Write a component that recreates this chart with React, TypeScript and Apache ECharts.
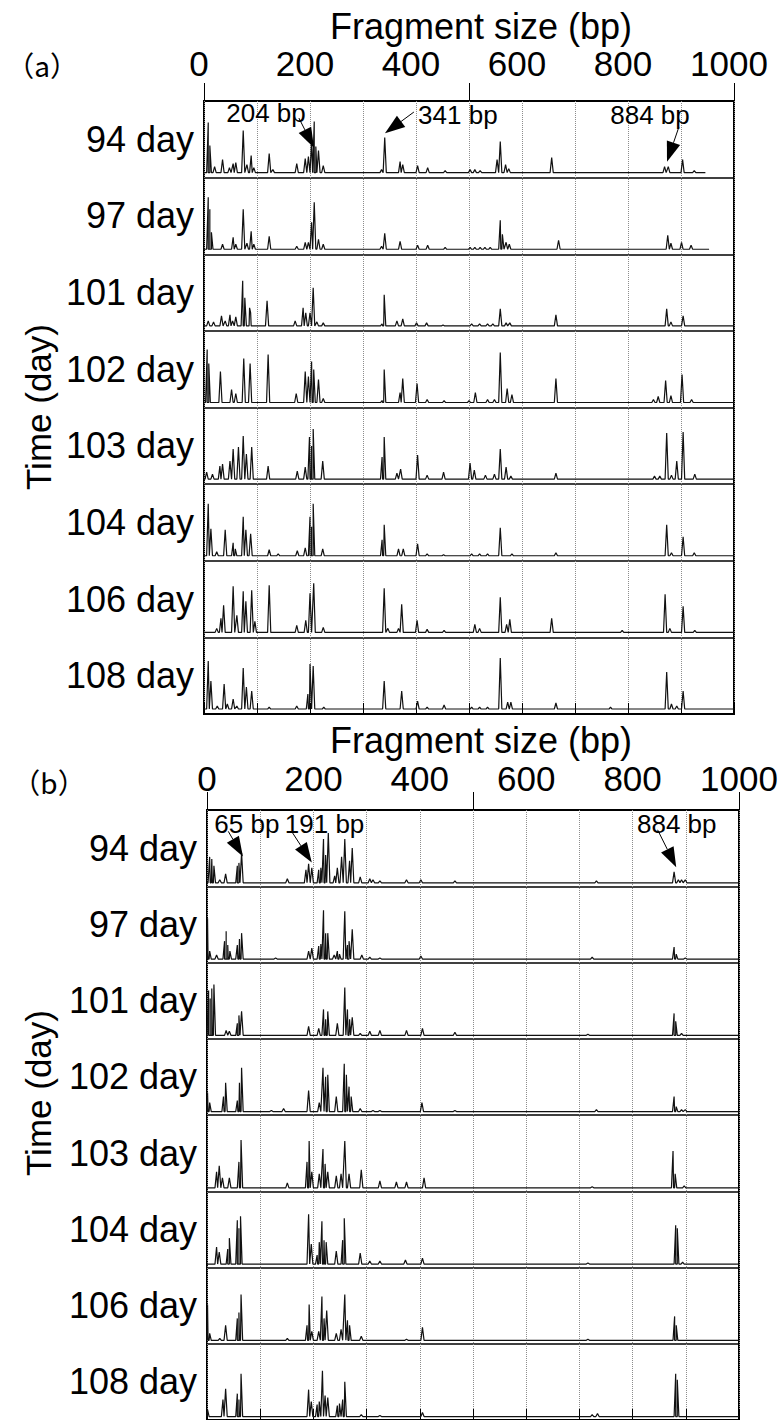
import { useEffect, useRef } from 'react';
import * as echarts from 'echarts';

const FONT = '"Liberation Sans", Arial, Helvetica, sans-serif';
const CJK = '"Noto Sans CJK JP", "Noto Sans", sans-serif';

const DAYS = ['94 day', '97 day', '101 day', '102 day', '103 day', '104 day', '106 day', '108 day'];
const X_LABELS = [0, 200, 400, 600, 800, 1000];
const X_TITLE = 'Fragment size (bp)';
const Y_TITLE = 'Time (day)';
const PANEL_TAGS = ['（a）', '（b）'];

// peaks: [fragment size (bp), intensity]
const A94 = [[8,50],[11,27],[20,6],[35,13],[48,5],[55,9],[60,10],[74,42],[81,8],[89,17],[94,5],[123,19],[130,3],[175,9],[191,14],[197,16],[203,31],[208,51],[211,26],[216,22],[225,7],[335,3],[341,35],[370,11],[375,8],[403,7],[422,5],[455,2],[502,3],[511,3],[521,2],[553,13],[559,31],[569,8],[575,4],[656,15],[869,6],[876,6],[903,13],[925,2]];
const A97 = [[8,52],[11,40],[14,17],[35,5],[55,12],[60,5],[74,40],[81,6],[89,18],[94,5],[123,13],[175,3],[191,7],[197,7],[203,27],[208,47],[216,10],[225,5],[335,3],[341,16],[370,8],[403,4],[422,4],[455,2],[502,2],[511,2],[521,2],[530,2],[540,2],[559,29],[563,15],[570,7],[576,5],[669,9],[875,14],[881,6],[901,7],[919,4]];
const A101 = [[8,5],[18,4],[33,10],[40,5],[49,11],[54,5],[60,9],[73,45],[77,28],[86,18],[88,13],[119,25],[172,5],[187,18],[192,13],[200,13],[206,38],[213,4],[225,3],[336,2],[340,31],[364,5],[375,7],[401,3],[420,3],[451,1],[505,2],[520,2],[535,2],[545,2],[559,17],[570,3],[577,3],[664,11],[873,17],[881,4],[904,10]];
const A102 = [[6,53],[9,39],[31,31],[52,13],[60,9],[75,44],[87,39],[121,48],[174,9],[191,31],[197,26],[203,41],[207,33],[216,23],[225,4],[336,2],[340,33],[370,10],[375,24],[402,19],[421,3],[453,2],[500,2],[512,10],[535,3],[548,3],[559,50],[572,14],[581,8],[664,24],[848,3],[857,6],[871,22],[881,7],[902,28],[920,3]];
const A103 = [[5,7],[16,5],[30,13],[35,15],[49,18],[55,30],[65,32],[74,43],[80,25],[90,32],[121,13],[176,8],[191,12],[199,42],[203,33],[206,50],[224,18],[336,22],[340,42],[364,6],[371,10],[403,24],[421,4],[452,7],[502,16],[510,9],[531,4],[548,5],[559,30],[570,12],[579,3],[664,6],[850,3],[860,3],[873,46],[882,4],[892,18],[904,47],[926,5]];
const A104 = [[8,52],[13,27],[24,4],[40,26],[55,13],[59,7],[74,39],[79,26],[88,22],[123,6],[140,2],[176,5],[191,8],[200,39],[203,29],[206,52],[224,7],[336,16],[340,31],[367,7],[376,7],[403,12],[421,2],[452,1],[505,2],[520,2],[535,2],[559,28],[581,2],[664,3],[873,31],[882,3],[904,19],[925,3]];
const A106 = [[24,4],[32,14],[37,27],[55,46],[62,17],[74,41],[79,31],[90,42],[96,11],[123,47],[175,7],[192,12],[200,39],[207,49],[225,5],[340,44],[347,4],[367,4],[373,28],[402,12],[421,3],[453,2],[511,8],[520,4],[559,35],[571,8],[577,13],[656,14],[789,2],[870,38],[879,4],[904,26],[926,2]];
const A108 = [[8,48],[13,28],[25,3],[38,25],[44,5],[55,10],[62,3],[74,41],[80,22],[90,18],[123,2],[175,3],[196,15],[200,45],[206,43],[226,2],[340,28],[373,18],[403,8],[421,2],[453,4],[505,2],[520,2],[535,2],[559,51],[573,7],[579,7],[664,6],[767,2],[873,37],[882,5],[892,3],[904,18]];
const A_ENDS = [946, 953, 1000, 1000, 1000, 1000, 1000, 1000];

const B94 = [[5,26],[9,24],[13,17],[24,3],[35,9],[57,17],[60,20],[65,30],[151,4],[186,13],[191,19],[197,15],[210,13],[214,15],[219,44],[223,28],[228,50],[240,7],[245,15],[253,26],[259,44],[268,22],[273,35],[288,6],[306,4],[312,3],[325,2],[375,3],[402,3],[466,2],[732,2],[878,11],[886,3],[892,3],[899,3]];
const B97 = [[1,41],[5,8],[18,4],[33,18],[36,28],[39,14],[43,8],[57,14],[61,20],[65,26],[129,1],[191,8],[197,11],[210,13],[214,15],[219,49],[223,26],[227,26],[239,4],[245,8],[249,5],[259,48],[264,14],[267,18],[273,30],[291,4],[306,2],[325,1],[402,3],[724,2],[878,12],[882,5],[899,1]];
const B101 = [[3,45],[6,37],[9,47],[13,51],[36,5],[42,4],[57,12],[60,20],[65,24],[191,9],[210,7],[219,26],[223,16],[227,24],[245,12],[259,48],[264,26],[268,16],[273,18],[288,2],[306,4],[325,5],[375,5],[405,7],[466,3],[716,1],[878,22],[881,14],[892,2]];
const B102 = [[1,19],[5,9],[31,15],[35,29],[57,11],[61,29],[65,44],[121,1],[144,3],[191,21],[211,9],[218,44],[223,35],[227,37],[243,15],[258,48],[262,37],[267,25],[271,15],[288,3],[312,1],[325,1],[404,9],[466,1],[732,2],[878,15],[882,5],[892,2],[899,2]];
const B103 = [[18,16],[23,22],[29,10],[42,10],[60,26],[64,48],[151,5],[188,26],[192,47],[197,16],[211,14],[218,39],[222,24],[227,16],[243,12],[252,14],[259,47],[267,14],[290,18],[325,7],[356,6],[375,6],[408,10],[724,1],[876,37],[880,14],[897,2]];
const B104 = [[18,17],[23,12],[39,15],[42,26],[57,44],[60,36],[63,48],[191,50],[196,20],[207,9],[211,22],[216,43],[220,24],[224,22],[243,13],[255,24],[258,46],[288,11],[306,3],[325,3],[373,4],[405,6],[716,1],[881,39],[884,36],[894,2]];
const B106 = [[1,36],[5,7],[24,2],[35,15],[57,22],[60,28],[64,46],[151,2],[188,15],[192,36],[197,9],[210,9],[216,44],[220,22],[225,30],[243,7],[252,11],[259,46],[264,20],[268,15],[290,4],[375,1],[405,13],[716,1],[879,24],[882,15]];
const B108 = [[1,7],[30,17],[35,28],[57,23],[60,17],[64,43],[191,27],[196,15],[207,12],[211,15],[217,46],[222,21],[227,19],[245,11],[249,13],[255,17],[259,35],[290,2],[325,1],[405,4],[724,2],[734,3],[881,43],[884,37]];
const B_ENDS = [1000, 1000, 1000, 1000, 1000, 1000, 1000, 1000];

// annotations: [tip bp, tip y, tail bp, tail y, text bp, text y] (y in row units, top row = 7..8)
const ANNOT_A_LABELS = ['204 bp', '341 bp', '884 bp'];
const ANNOT_A = [
  [207.5, 7.39, 179, 7.778, 117, 7.843],
  [341.5, 7.578, 396, 7.856, 479, 7.817],
  [873.6, 7.208, 896, 7.66, 841.5, 7.817],
];
const ANNOT_B_LABELS = ['65 bp', '191 bp', '884 bp'];
const ANNOT_B = [
  [67.5, 7.39, 40, 7.72, 75, 7.815],
  [197, 7.31, 159, 7.72, 221, 7.815],
  [882, 7.25, 847, 7.74, 883, 7.815],
];

const PANEL_A = [A94, A97, A101, A102, A103, A104, A106, A108];
const PANEL_B = [B94, B97, B101, B102, B103, B104, B106, B108];

const ROW_PX = 76.5;
const SPIKE = 3;

function buildTrace(peaks: number[][], end: number, base: number) {
  const pts: number[][] = [[0, base], [end, base]];
  for (const [bp, h] of peaks) {
    pts.push([Math.max(0, bp - SPIKE), base], [bp, base + h / ROW_PX], [bp + SPIKE, base]);
  }
  pts.sort((a, b) => a[0] - b[0]);
  return pts;
}

export default function App() {
  const ref = useRef<HTMLDivElement>(null);

  useEffect(() => {
    if (!ref.current) return;
    document.body.style.margin = '0';
    const chart = echarts.init(ref.current, undefined, { renderer: 'svg' });

    const layouts = [
      { left: 204, width: 530, top: 101, height: 613, margin: 20, pad: 10, titleY: 26, tagX: 42, tagY: 65, timeY: 407, baseOff: 0.065 },
      { left: 207, width: 532, top: 810, height: 610, margin: 14, pad: 0, titleY: 740, tagX: 49, tagY: 782, timeY: 1093, baseOff: 0.045 },
    ];
    const panels = [
      { rows: PANEL_A, ends: A_ENDS, annot: ANNOT_A, labels: ANNOT_A_LABELS },
      { rows: PANEL_B, ends: B_ENDS, annot: ANNOT_B, labels: ANNOT_B_LABELS },
    ];

    const grid: any[] = [];
    const xAxis: any[] = [];
    const yAxis: any[] = [];
    const series: any[] = [];
    const graphic: any[] = [];

    layouts.forEach((L, i) => {
      grid.push({ left: L.left, top: L.top, width: L.width, height: L.height, show: true, borderColor: '#000', borderWidth: 2, backgroundColor: 'transparent' });
      xAxis.push({
        type: 'value', gridIndex: i, min: 0, max: 1000, interval: 100, position: 'top',
        axisLine: { show: true, lineStyle: { color: '#000', width: 2 } },
        axisTick: { show: true, length: 11, lineStyle: { color: '#000', width: 1 } },
        axisLabel: {
          show: true, margin: L.margin, fontSize: 35, color: '#000', fontFamily: FONT,
          showMinLabel: true, showMaxLabel: true, padding: [0, L.pad, 0, 0],
          formatter: (v: number) => (X_LABELS.includes(v) ? String(v) : ''),
        },
        splitLine: { show: true, lineStyle: { color: '#8c8c8c', width: 1, type: [1, 1] } },
      });
      xAxis.push({
        type: 'value', gridIndex: i, min: 0, max: 1000, interval: 500, position: 'top',
        axisLine: { show: false }, axisTick: { show: true, length: 18, lineStyle: { color: '#000', width: 1 } },
        axisLabel: { show: false }, splitLine: { show: false },
      });
      yAxis.push({
        type: 'value', gridIndex: i, min: 0, max: 8, interval: 1,
        axisLine: { show: false }, axisTick: { show: false }, axisLabel: { show: false },
        splitLine: { show: true, lineStyle: { color: '#000', width: 1.5 } },
      });
      yAxis.push({
        type: 'category', gridIndex: i, data: DAYS, inverse: true, position: 'left',
        axisLine: { show: false }, axisTick: { show: false }, splitLine: { show: false },
        axisLabel: { fontSize: 36, color: '#000', fontFamily: FONT, margin: 10, padding: [16, 0, 0, 0] },
      });

      const P = panels[i];
      P.rows.forEach((peaks, r) => {
        series.push({
          type: 'line', xAxisIndex: i * 2, yAxisIndex: i * 2,
          data: buildTrace(peaks, P.ends[r], 7 - r + L.baseOff),
          symbol: 'none', showSymbol: false, silent: true, z: 3,
          lineStyle: { color: '#111', width: 1.2 },
        });
      });
      series.push({
        type: 'custom', xAxisIndex: i * 2, yAxisIndex: i * 2, silent: true, clip: false, z: 5,
        data: P.annot,
        renderItem: (params: any, api: any) => {
          const tip = api.coord([api.value(0), api.value(1)]);
          const tail = api.coord([api.value(2), api.value(3)]);
          const txt = api.coord([api.value(4), api.value(5)]);
          const dx = tip[0] - tail[0];
          const dy = tip[1] - tail[1];
          const len = Math.hypot(dx, dy) || 1;
          const ux = dx / len, uy = dy / len;
          const HL = 20, HW = 7;
          const bx = tip[0] - ux * HL, by = tip[1] - uy * HL;
          return {
            type: 'group',
            children: [
              { type: 'line', shape: { x1: tail[0], y1: tail[1], x2: bx, y2: by }, style: { stroke: '#000', lineWidth: 1 } },
              { type: 'polygon', shape: { points: [tip, [bx - uy * HW, by + ux * HW], [bx + uy * HW, by - ux * HW]] }, style: { fill: '#000' } },
              { type: 'text', x: txt[0], y: txt[1], style: { text: P.labels[params.dataIndex], fontSize: 26, fontFamily: FONT, fill: '#000', align: 'center', verticalAlign: 'middle' } },
            ],
          };
        },
      });

      graphic.push(
        { type: 'text', x: 481, y: L.titleY, style: { text: X_TITLE, fontSize: 36, fontFamily: FONT, fill: '#000', align: 'center', verticalAlign: 'middle' } },
        { type: 'text', x: L.tagX, y: L.tagY, style: { text: PANEL_TAGS[i], fontSize: 28, fontFamily: CJK, fill: '#000', align: 'center', verticalAlign: 'middle' } },
        { type: 'text', x: 38, y: L.timeY, rotation: Math.PI / 2, style: { text: Y_TITLE, fontSize: 35, fontFamily: FONT, fill: '#000', align: 'center', verticalAlign: 'middle' } },
      );
    });

    chart.setOption({
      animation: false,
      backgroundColor: '#fff',
      grid, xAxis, yAxis, series, graphic,
    });
    return () => chart.dispose();
  }, []);

  return <div ref={ref} style={{ position: 'absolute', left: 0, top: 0, width: 784, height: 1420 }} />;
}
